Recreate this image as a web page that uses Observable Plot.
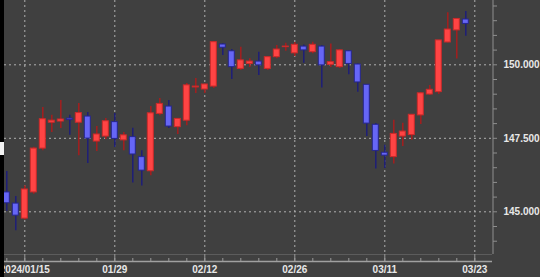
<!DOCTYPE html>
<html><head><meta charset="utf-8">
<script src="https://cdn.jsdelivr.net/npm/d3@7"></script>
<script src="https://cdn.jsdelivr.net/npm/@observablehq/plot@0.6"></script>
<style>
html,body{margin:0;padding:0;background:#000;width:540px;height:277px;overflow:hidden;}
#wrap{position:absolute;left:4px;top:0;}
#tab{position:absolute;left:0;top:142px;width:4px;height:13px;background:#f2f2f2;}
</style></head><body>
<div id="wrap"></div><div id="tab"></div>
<script>
const dates = [
  "2024-01-11","2024-01-12","2024-01-15","2024-01-16","2024-01-17","2024-01-18","2024-01-19",
  "2024-01-22","2024-01-23","2024-01-24","2024-01-25","2024-01-26","2024-01-29","2024-01-30","2024-01-31",
  "2024-02-01","2024-02-02","2024-02-05","2024-02-06","2024-02-07","2024-02-08","2024-02-09",
  "2024-02-12","2024-02-13","2024-02-14","2024-02-15","2024-02-16","2024-02-19","2024-02-20",
  "2024-02-21","2024-02-22","2024-02-23","2024-02-26","2024-02-27","2024-02-28","2024-02-29",
  "2024-03-01","2024-03-04","2024-03-05","2024-03-06","2024-03-07","2024-03-08","2024-03-11",
  "2024-03-12","2024-03-13","2024-03-14","2024-03-15","2024-03-18","2024-03-19","2024-03-20",
  "2024-03-21","2024-03-22"
];
const open = [
  145.66,145.28,144.77,145.66,147.15,148.03,148.07,
  148.17,148.03,148.24,147.39,147.56,148.05,147.43,147.54,
  146.86,146.38,148.33,148.58,147.88,148.10,149.23,
  149.16,149.26,150.69,150.46,149.86,150.03,150.11,
  149.86,150.26,150.60,150.39,150.62,150.43,150.62,
  150.00,149.92,150.46,150.01,149.32,147.96,147.01,
  146.86,147.56,147.61,148.28,148.99,149.07,150.76,
  151.17,151.54
];
const high = [
  146.37,145.52,145.89,147.20,148.55,148.28,148.79,
  148.28,148.68,148.38,147.90,148.17,148.34,147.70,147.84,
  147.08,148.58,148.85,148.79,148.17,149.36,149.53,
  149.35,150.79,150.72,150.52,150.60,150.21,150.43,
  150.28,150.66,150.73,150.76,150.67,150.77,150.66,
  150.71,150.52,150.49,150.03,149.33,148.00,147.26,
  148.11,148.01,148.31,149.06,149.30,150.83,151.77,
  151.57,151.81
];
const low = [
  145.02,144.36,144.72,145.60,147.08,147.70,147.83,
  147.60,146.91,146.64,147.05,147.46,147.19,147.08,145.98,
  145.88,146.23,148.27,147.83,147.63,147.93,149.02,
  149.02,149.19,150.32,149.50,149.81,149.91,149.64,
  149.81,150.21,150.46,150.28,150.05,150.38,149.21,
  149.91,149.87,149.66,149.07,147.56,146.46,146.47,
  146.63,147.22,147.43,147.97,148.96,148.99,150.74,
  150.20,150.97
];
const close = [
  145.29,144.87,145.76,147.15,148.15,148.10,148.14,
  148.12,148.36,147.49,147.63,148.08,147.48,147.60,146.95,
  146.40,148.35,148.67,147.90,148.16,149.30,149.26,
  149.33,150.77,150.58,149.92,150.15,150.11,149.98,
  150.26,150.52,150.62,150.68,150.49,150.68,149.98,
  150.09,150.49,150.03,149.40,148.00,147.07,146.91,
  147.65,147.73,148.30,149.03,149.15,150.83,151.20,
  151.56,151.39
];
const xTickDates = ["2024-01-15","2024-01-29","2024-02-12","2024-02-26","2024-03-11","2024-03-23"];
const xTickLabels = ["2024/01/15","01/29","02/12","02/26","03/11","03/23"];
const yTickLabels = [145, 147.5, 150];

// trading-day slot: weekdays counted from the first date
const day0 = new Date(dates[0] + "T00:00:00Z");
function slotOf(s) {
  const d = new Date(s + "T00:00:00Z");
  let n = 0;
  for (let t = new Date(day0); t < d; t.setUTCDate(t.getUTCDate() + 1)) {
    const w = t.getUTCDay();
    if (w !== 0 && w !== 6) n++;
  }
  return n;
}
const candles = dates.map((d, i) => ({
  slot: slotOf(d), open: open[i], high: high[i], low: low[i], close: close[i],
  up: close[i] >= open[i]
}));
const xTickSlots = xTickDates.map(slotOf);
const labelBySlot = new Map(xTickSlots.map((s, i) => [s, xTickLabels[i]]));
const lastSlot = xTickSlots[xTickSlots.length - 1];
const minorSlots = d3.range(0, lastSlot + 1, 2);

const xDomain = [-0.256, 53.967];
const yDomain = [143.548, 152.187];
const grid = "#b0b0b0";
const axisGray = "#8e8e8e";
const textCol = "#e8e8e8";

const chart = Plot.plot({
  width: 536, height: 277,
  marginLeft: 0, marginRight: 48, marginTop: 0, marginBottom: 23,
  style: {background: "#404040", overflow: "hidden", fontFamily: "'Liberation Sans', Arial, sans-serif", fontSize: "10px", fontWeight: "bold"},
  x: {domain: xDomain, axis: null},
  y: {domain: yDomain, axis: null},
  color: {type: "identity"},
  marks: [
    Plot.ruleY(yTickLabels, {stroke: grid, strokeDasharray: "2,3"}),
    Plot.ruleX(xTickSlots, {stroke: grid, strokeDasharray: "2,3"}),
    Plot.ruleY([yDomain[0]], {stroke: "#5c5c5c"}),
    Plot.ruleY([yDomain[0]], {stroke: "#a0a0a0", strokeWidth: 1.5, dy: 7}),
    Plot.ruleX([xDomain[1]], {stroke: axisGray, dx: 0.5}),
    Plot.ruleX(candles, {x: "slot", y1: "low", y2: "high", stroke: d => d.up ? "#a41e1e" : "#1e1e78", strokeWidth: 1.5}),
    Plot.rect(candles, {
      x1: d => d.slot - 0.5, x2: d => d.slot + 0.5, y1: "open", y2: "close",
      insetLeft: 1.5, insetRight: 1.5,
      fill: d => d.up ? "#ff4444" : "#6666f6",
      stroke: d => d.up ? "#cc2a2a" : "#26268c", strokeWidth: 1
    }),
    Plot.axisY({anchor: "right", ticks: d3.range(144, 152.01, 0.5), tickSize: 4, tickPadding: 7,
      tickFormat: d => yTickLabels.includes(d) ? d3.format(".3f")(d) : "",
      stroke: axisGray, fill: textCol, label: null}),
    Plot.axisX({ticks: minorSlots, tickSize: 3, dy: 4, tickFormat: () => "", stroke: "#9a9a9a", label: null}),
    Plot.axisX({ticks: xTickSlots, tickSize: 7, tickPadding: 4.5, tickFormat: d => labelBySlot.get(d),
      stroke: "#9a9a9a", fill: textCol, label: null})
  ]
});
document.getElementById("wrap").appendChild(chart);
</script>
</body></html>
